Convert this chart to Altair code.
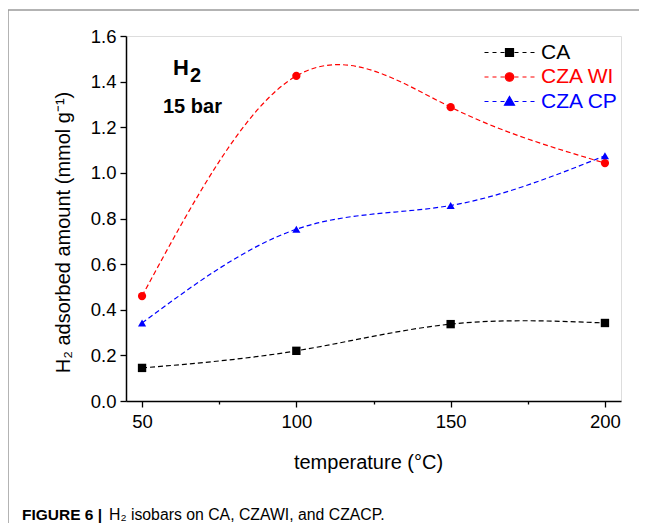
import altair as alt
import pandas as pd

# ---- data ----
temperature = [50, 100, 150, 200]
ca = [0.145, 0.220, 0.337, 0.342]
cza_wi = [0.460, 1.425, 1.288, 1.043]
cza_cp = [0.342, 0.753, 0.857, 1.075]

series = ["CA", "CZA WI", "CZA CP"]
colors = ["#000000", "#ff0000", "#0000ff"]
shapes = ["square", "circle", "triangle-up"]
marker_sizes = [70, 66, 100]

x_ticks = [50, 75, 100, 125, 150, 175, 200]
y_ticks = [0.0, 0.1, 0.2, 0.3, 0.4, 0.5, 0.6, 0.7, 0.8, 0.9, 1.0,
           1.1, 1.2, 1.3, 1.4, 1.5, 1.6]

caption_bold = ["FIGURE 6 |"]
caption_rest = ["H\u2082 isobars on CA, CZAWI, and CZACP."]
annot_h = ["H"]
annot_2 = ["2"]
annot_bar = ["15 bar"]

FONT = "Liberation Sans"

rows = []
for name, vals in zip(series, [ca, cza_wi, cza_cp]):
    for t, v in zip(temperature, vals):
        rows.append({"temperature": t, "amount": v, "sample": name})
df = pd.DataFrame(rows)

W, H = 495, 365

x_enc = alt.X(
    "temperature:Q",
    scale=alt.Scale(domain=[44.8, 205.2], nice=False, zero=False),
    axis=alt.Axis(
        values=x_ticks,
        labelExpr="datum.value % 50 === 0 ? datum.label : ''",
        tickSize={"condition": {"test": "datum.value % 50 === 0", "value": 6}, "value": 3},
        title="temperature (\u00b0C)",
        titleX=242, titleY=61, titleBaseline="middle",
        titleFontSize=20, titleFontWeight="normal", titleFont=FONT,
        labelFontSize=18.5, labelFont=FONT, labelPadding=5,
        labelColor="black", titleColor="black",
        domainColor="black", domainWidth=1.5, tickColor="black", tickWidth=1.3,
        grid=False, labelFlush=False, labelOverlap=False,
    ),
)
y_enc = alt.Y(
    "amount:Q",
    scale=alt.Scale(domain=[0, 1.6], nice=False, zero=False),
    axis=alt.Axis(
        values=y_ticks,
        labelExpr="round(datum.value*10) % 2 === 0 ? format(datum.value, '.1f') : ''",
        tickSize={"condition": {"test": "round(datum.value*10) % 2 === 0", "value": 6}, "value": 3},
        title="H\u2082 adsorbed amount (mmol g\u207b\u00b9)",
        titleX=-63, titleY=196, titleBaseline="middle", titleAngle=270,
        titleFontSize=20, titleFontWeight="normal", titleFont=FONT,
        labelFontSize=18.5, labelFont=FONT, labelPadding=4,
        labelColor="black", titleColor="black",
        domainColor="black", domainWidth=1.5, tickColor="black", tickWidth=1.3,
        grid=False, labelFlush=False, labelOverlap=False,
    ),
)

color_expr = ("datum.value === 'CA' ? '#000000' : "
              "datum.value === 'CZA WI' ? '#ff0000' : '#0000ff'")
dashes = "M-5,0H-4.2M-3.4,0H-2.6M-1.8,0H-1M1,0H1.8M2.6,0H3.4M4.2,0H5"
p_sq = dashes + "M-0.8,-0.8H0.8V0.8H-0.8Z"
p_ci = dashes + "M0.85,0A0.85,0.85 0 1,1 -0.85,0A0.85,0.85 0 1,1 0.85,0Z"
p_tr = dashes + "M0,-1L1,0.75L-1,0.75Z"
shape_expr = ("datum.value === 'CA' ? '" + p_sq + "' : datum.value === 'CZA WI' ? '"
              + p_ci + "' : '" + p_tr + "'")

legend = alt.Legend(
    title=None, orient="none", legendX=373, legendY=6, padding=0,
    symbolSize=100, symbolStrokeWidth=1.2, labelOffset=21, rowPadding=2.5,
    labelFontSize=21, labelFont=FONT,
    symbolType=alt.ExprRef(shape_expr),
    symbolFillColor=alt.ExprRef(color_expr),
    symbolStrokeColor=alt.ExprRef(color_expr),
    labelColor=alt.ExprRef(color_expr),
    symbolOpacity=1,
)

base = alt.Chart(df)

lines = base.mark_line(interpolate="natural", strokeDash=[5, 3], strokeWidth=1.2).encode(
    x=x_enc, y=y_enc,
    color=alt.Color("sample:N", scale=alt.Scale(domain=series, range=colors), legend=legend),
    detail="sample:N",
)

points = base.mark_point(filled=True, opacity=1).encode(
    x="temperature:Q", y="amount:Q",
    color=alt.Color("sample:N", scale=alt.Scale(domain=series, range=colors), legend=None),
    shape=alt.Shape("sample:N", scale=alt.Scale(domain=series, range=shapes), legend=None),
    size=alt.Size("sample:N", scale=alt.Scale(domain=series, range=marker_sizes), legend=None),
)

def txt(values, x, y, size, weight="normal"):
    return alt.Chart(pd.DataFrame({"t": values})).mark_text(
        align="left", baseline="middle", font=FONT, fontSize=size,
        fontWeight=weight, color="black"
    ).encode(text="t:N", x=alt.value(x), y=alt.value(y))

t_h = txt(annot_h, 47, 32, 22, "bold")
t_2 = txt(annot_2, 64, 40, 20, "bold")
t_bar = txt(annot_bar, 37, 70.5, 20, "bold")
cap1 = txt(caption_bold, -104, 479, 15.5, "bold")
cap2 = txt(caption_rest, -17, 479, 15.8)

frame_left = alt.Chart(pd.DataFrame({"a": [0]})).mark_rule(color="#9a9a9a", strokeWidth=1.5).encode(
    x=alt.value(-118), y=alt.value(-26), y2=alt.value(500))
frame_top = alt.Chart(pd.DataFrame({"a": [0]})).mark_rule(color="#9a9a9a", strokeWidth=1.5).encode(
    x=alt.value(-118.75), x2=alt.value(520), y=alt.value(-26))

chart = alt.layer(
    frame_left, frame_top, lines, points, t_h, t_2, t_bar, cap1, cap2
).resolve_legend(
    color="independent", shape="independent", size="independent"
).properties(
    width=W, height=H,
    autosize=alt.AutoSizeParams(type="none"),
    padding={"left": 118, "top": 28, "right": 18, "bottom": 122},
).configure_view(
    stroke="black", strokeWidth=1.5
).configure(background="white")

chart.save("out.html", embed_options={"renderer": "svg", "actions": False})
